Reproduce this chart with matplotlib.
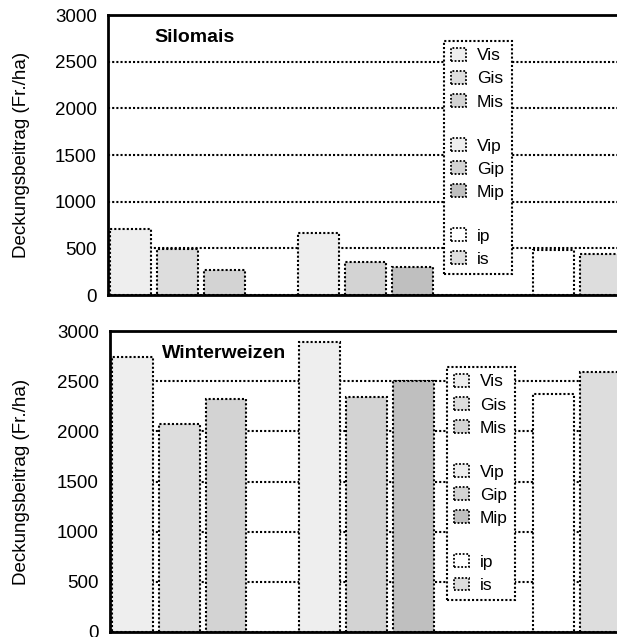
import matplotlib
matplotlib.use('Agg')
import matplotlib.pyplot as plt
from matplotlib.patches import Patch
import numpy as np

# bar order as in the legend
labels = ['Vis', 'Gis', 'Mis', 'Vip', 'Gip', 'Mip', 'ip', 'is']
colors = ['#eeeeee', '#dddddd', '#d3d3d3', '#eeeeee', '#d3d3d3', '#bfbfbf', '#ffffff', '#dddddd']
silomais = [710, 490, 270, 665, 355, 300, 480, 440]
winterweizen = [2740, 2075, 2320, 2890, 2340, 2500, 2370, 2590]
yticks = [0, 500, 1000, 1500, 2000, 2500, 3000]
ylabel = 'Deckungsbeitrag (Fr./ha)'

plt.rcParams['font.family'] = ['Liberation Sans', 'DejaVu Sans']

W, H = 617, 637
fig = plt.figure(figsize=(W / 100, H / 100), dpi=100)

# slot positions: three groups, gaps between them (legend sits in the second gap)
x = np.array([0, 1, 2, 4, 5, 6, 9, 10])
dots = (0, (1, 1))


def panel(box, values, title, title_xy, legend_xy, label_x):
    l, t, r, b = box
    ax = fig.add_axes([l / W, 1 - b / H, (r - l) / W, (b - t) / H])
    ax.bar(x, values, 0.87, color=colors, edgecolor='black',
           linestyle=dots, linewidth=1.5, zorder=2)
    ax.set_xlim(-0.48, 10.35)
    ax.set_ylim(0, 3000)
    ax.set_yticks(yticks)
    ax.set_xticks([])
    ax.tick_params(axis='y', length=0, pad=8, labelsize=13.5)
    ax.set_axisbelow(True)
    ax.yaxis.grid(True, color='black', linestyle=dots, linewidth=1.5)
    ax.spines['right'].set_visible(False)
    ax.spines['top'].set_linewidth(2)
    ax.spines['bottom'].set_linewidth(2)
    ax.spines['left'].set_linestyle(dots)
    ax.spines['left'].set_linewidth(2)
    ax.set_ylabel(ylabel, fontsize=13.5, va='center')
    ax.yaxis.set_label_coords(label_x, 0.5)
    ax.text(title_xy[0], title_xy[1], title, transform=ax.transAxes,
            fontsize=14, fontweight='bold', va='center', ha='left')

    handles, names = [], []
    for i, (lab, c) in enumerate(zip(labels, colors)):
        if i in (3, 6):
            handles.append(Patch(facecolor='none', edgecolor='none'))
            names.append(' ')
        handles.append(Patch(facecolor=c, edgecolor='black', linestyle=dots, linewidth=1.3))
        names.append(lab)
    leg = ax.legend(handles, names, loc='upper left', bbox_to_anchor=legend_xy,
                    borderaxespad=0, fontsize=12.5, handlelength=0.86, handleheight=0.75,
                    handletextpad=0.63, labelspacing=0.44, borderpad=0.4,
                    fancybox=False, framealpha=1, edgecolor='black')
    leg.get_frame().set_linestyle(dots)
    leg.get_frame().set_linewidth(1.5)
    for txt in leg.get_texts():
        if txt.get_text() == ' ':
            txt.set_fontsize(3)
    return ax


panel((108, 15, 617, 295), silomais, 'Silomais', (0.092, 0.918), (0.660, 0.907), -0.169)
panel((110, 331, 617, 632), winterweizen, 'Winterweizen', (0.1026, 0.924), (0.665, 0.880), -0.174)

fig.savefig('out.png', dpi=100)
